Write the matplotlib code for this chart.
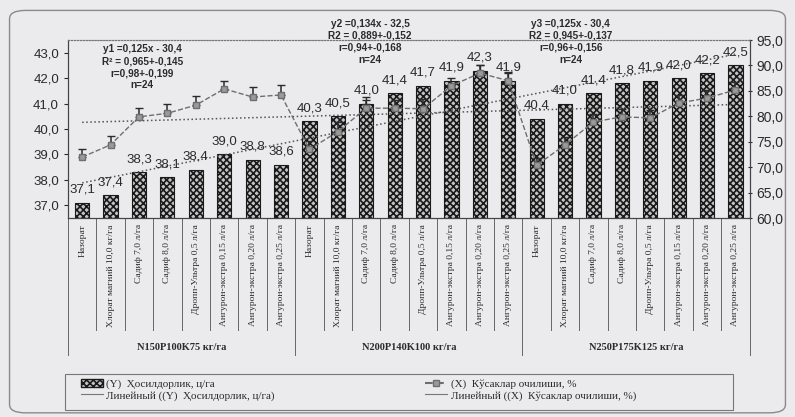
import matplotlib.pyplot as plt
import numpy as np
from matplotlib.patches import FancyBboxPatch, Rectangle
from matplotlib.ticker import FuncFormatter, MultipleLocator
from matplotlib.lines import Line2D
from matplotlib.patches import Patch
import matplotlib.transforms as mtransforms

# data
treatments = [
    "Назорат",
    "Хлорат магний 10,0 кг/га",
    "Садиф 7,0 л/га",
    "Садиф 8,0 л/га",
    "Дропп-Ультра 0,5 л/га",
    "Ангурон-экстра 0,15 л/га",
    "Ангурон-экстра 0,20 л/га",
    "Ангурон-экстра 0,25 л/га",
]
groups = ["N150P100K75 кг/га", "N200P140K100 кг/га", "N250P175K125 кг/га"]

yield_y = [37.1, 37.4, 38.3, 38.1, 38.4, 39.0, 38.8, 38.6,
           40.3, 40.5, 41.0, 41.4, 41.7, 41.9, 42.3, 41.9,
           40.4, 41.0, 41.4, 41.8, 41.9, 42.0, 42.2, 42.5]
yield_err = [0, 0, 0, 0, 0, 0, 0, 0,
             0, 0, 0.25, 0, 0, 0, 0.2, 0.3,
             0, 0, 0, 0, 0, 0, 0, 0]
opening_x = [72.0, 74.4, 79.9, 80.6, 82.2, 85.4, 83.8, 84.2,
             73.5, 77.0, 81.6, 81.6, 81.5, 86.0, 88.5, 87.0,
             70.4, 74.4, 78.9, 79.9, 79.7, 82.6, 83.6, 85.2]
opening_err = [1.6, 1.7, 1.8, 1.8, 1.8, 1.6, 1.9, 1.9,
               1.6, 1.9, 1.6, 1.6, 1.9, 1.6, 1.6, 1.8,
               1.4, 1.6, 1.6, 1.6, 1.6, 1.6, 1.6, 1.6]

stats = [
    "y1 =0,125x - 30,4\nR² = 0,965+-0,145\nr=0,98+-0,199\nn=24",
    "y2 =0,134x - 32,5\nR2 = 0,889+-0,152\nr=0,94+-0,168\nn=24",
    "y3 =0,125x - 30,4\nR2 = 0,945+-0,137\nr=0,96+-0,156\nn=24",
]

bg = "#ebebed"
ink = "#2b2b2b"
serif = ["Liberation Serif", "DejaVu Serif"]
sans = ["Liberation Sans", "DejaVu Sans"]
plt.rcParams["font.family"] = sans
plt.rcParams["hatch.color"] = "#1a1a1a"
plt.rcParams["hatch.linewidth"] = 1.2

comma = FuncFormatter(lambda v, p: f"{v:.1f}".replace(".", ","))

fig = plt.figure(figsize=(7.95, 4.17), dpi=100, facecolor=bg)
ax = fig.add_axes([0.0855, 0.477, 0.8575, 0.427])
ax.set_facecolor(bg)
ax2 = ax.twinx()

x = np.arange(len(yield_y))

# bars (Y)
ax.bar(x, np.array(yield_y) - 36.5, bottom=36.5, width=0.5,
       color="#c4c4c4", edgecolor="#1a1a1a", hatch="xxxxx", linewidth=0.8,
       zorder=2)
err_idx = [i for i, e in enumerate(yield_err) if e > 0]
ax.errorbar(x[err_idx], np.array(yield_y)[err_idx],
            yerr=[np.zeros(len(err_idx)), np.array(yield_err)[err_idx]],
            fmt="none", ecolor=ink, elinewidth=1, capsize=3, zorder=3)

for xi, v in zip(x, yield_y):
    ax.annotate(f"{v:.1f}".replace(".", ","), (xi, v), xytext=(0, 5),
                textcoords="offset points", ha="center", va="bottom",
                fontsize=9.5, color=ink, zorder=5)

# linear trend of Y over all points
ky, by = np.polyfit(x, yield_y, 1)
ax.plot([x[0], x[-1]], [by, ky * x[-1] + by], ls=":", color="#555555",
        lw=1.1, zorder=4)

ax.set_ylim(36.5, 43.5)
ax.set_xlim(-0.5, 23.5)
ax.yaxis.set_major_locator(MultipleLocator(1.0))
ax.yaxis.set_major_formatter(comma)
ax.tick_params(axis="y", labelsize=9.5, colors=ink, length=3)
ax.set_xticks([])

# X series on right axis
ax2.errorbar(x, opening_x, yerr=[np.zeros(len(x)), opening_err], fmt="none",
             ecolor=ink, elinewidth=1.1, capsize=3, zorder=3)
ax2.plot(x, opening_x, ls="--", color="#6e6e6e", lw=1, marker="s",
         markersize=4.5, markerfacecolor="#9a9a9a", markeredgecolor="#6e6e6e",
         zorder=4)
kx, bx = np.polyfit(x, opening_x, 1)
ax2.plot([x[0], x[-1]], [bx, kx * x[-1] + bx], ls=":", color="#555555",
         lw=1.1, zorder=2)
ax2.set_ylim(60, 95)
ax2.yaxis.set_major_locator(MultipleLocator(5))
ax2.yaxis.set_major_formatter(comma)
ax2.tick_params(axis="y", labelsize=10, colors=ink, length=3, direction="inout")

for a in (ax, ax2):
    for s in ("left", "right", "bottom"):
        a.spines[s].set_color("#444444")
    a.spines["top"].set_linestyle(":")
    a.spines["top"].set_color("#777777")

# category axis table
trans = mtransforms.blended_transform_factory(ax.transData, ax.transAxes)
for i in range(len(x) + 1):
    bottom = -0.77 if i % 8 == 0 else -0.63
    ax.plot([i - 0.5, i - 0.5], [0, bottom], color="#666666", lw=0.7,
            transform=trans, clip_on=False)
for i in x:
    ax.text(i, -0.035, treatments[i % 8], rotation=90, ha="center", va="top",
            fontsize=6.8, family=serif, color=ink, transform=trans)
for g, name in enumerate(groups):
    ax.text(g * 8 + 3.5, -0.725, name, ha="center", va="center", fontsize=7.5,
            family=serif, fontweight="bold", color=ink, transform=trans)

# regression notes
for cx, top, s in zip([0.109, 0.443, 0.7375], [0.975, 1.12, 1.12], stats):
    ax.text(cx, top, s, ha="center", va="top", fontsize=7.2, fontweight="bold",
            color=ink, linespacing=1.25, transform=ax.transAxes, zorder=6)

# legend (frame drawn separately, wider than the entries)
handles = [
    Patch(facecolor="#c4c4c4", edgecolor="#1a1a1a", hatch="xxxxx"),
    Line2D([], [], ls="-", color="#777777", lw=0.8),
    Line2D([], [], ls="--", color="#6e6e6e", marker="s", markersize=4,
           markerfacecolor="#9a9a9a", markeredgecolor="#6e6e6e"),
    Line2D([], [], ls="-", color="#777777", lw=0.8),
]
labels = [
    "(Y)  Ҳосилдорлик, ц/га",
    "Линейный ((Y)  Ҳосилдорлик, ц/га)",
    "(X)  Кўсаклар очилиши, %",
    "Линейный ((X)  Кўсаклар очилиши, %)",
]
leg = fig.legend(handles, labels, ncol=2, loc="center left",
                 bbox_to_anchor=(0.092, 0.065), frameon=False,
                 prop={"family": serif, "size": 8}, handlelength=2.0,
                 handletextpad=0.3, columnspacing=13.5, labelspacing=0.12,
                 borderpad=0.2)
for t in leg.get_texts():
    t.set_color(ink)
fig.patches.append(Rectangle((65 / 795, 1 - 410 / 417), 668 / 795, 36 / 417,
                             transform=fig.transFigure, fill=False,
                             edgecolor="#777777", lw=0.8))

# rounded chart border
fig.patches.append(FancyBboxPatch((0.012, 0.01), 0.976, 0.965,
                                  boxstyle="round,pad=0,rounding_size=0.02",
                                  transform=fig.transFigure, fill=False,
                                  edgecolor="#8a8a8a", lw=1.0))

fig.savefig("out.png", dpi=100, facecolor=bg)
